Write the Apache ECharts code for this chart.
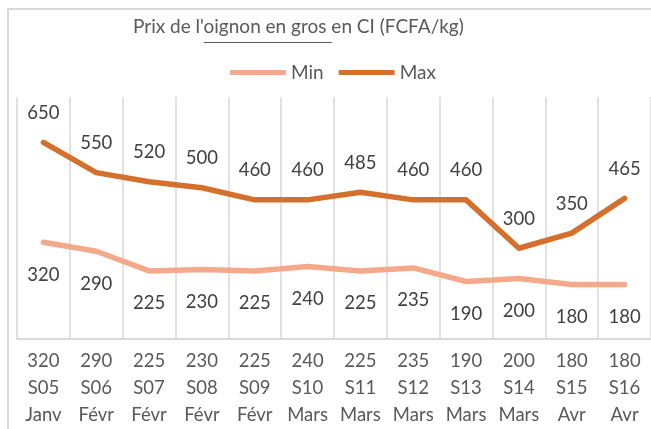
<!DOCTYPE html>
<html>
<head>
<meta charset="utf-8">
<script src="https://cdn.jsdelivr.net/npm/echarts@6/dist/echarts.min.js"></script>
<style>
html,body{margin:0;padding:0;background:#fff;}
#c{width:651px;height:429px;}
</style>
</head>
<body>
<div id="c"></div>
<script>
const weeks = ["S05","S06","S07","S08","S09","S10","S11","S12","S13","S14","S15","S16"];
const months = ["Janv","Févr","Févr","Févr","Févr","Mars","Mars","Mars","Mars","Mars","Avr","Avr"];
const minValues = [320,290,225,230,225,240,225,235,190,200,180,180];
const maxValues = [650,550,520,500,460,460,485,460,460,300,350,465];

const categories = weeks.map((w, i) => minValues[i] + "\n" + w + "\n" + months[i]);
const FONT = "Lato";
const TXT = "#595959";
const TITLE_SIZE = 19;
const TITLE_LEFT = 133;

// underline position for "oignon en gros "
const mctx = document.createElement("canvas").getContext("2d");
mctx.font = TITLE_SIZE + "px " + FONT;
const ulX1 = TITLE_LEFT + mctx.measureText("Prix de l'").width;
const ulX2 = ulX1 + mctx.measureText("oignon en gros ").width;

const chart = echarts.init(document.getElementById("c"), null, {renderer: "canvas"});
chart.setOption({
  animation: false,
  backgroundColor: "#fff",
  title: {
    text: "Prix de l'oignon en gros en CI (FCFA/kg)",
    left: TITLE_LEFT, top: 17,
    padding: 0,
    textStyle: {fontFamily: FONT, fontSize: TITLE_SIZE, fontWeight: "normal", color: TXT}
  },
  legend: {
    data: ["Min", "Max"],
    left: 230, top: 63,
    padding: 0,
    itemWidth: 56, itemHeight: 5, itemGap: 15,
    icon: "roundRect",
    textStyle: {fontFamily: FONT, fontSize: 19, color: TXT}
  },
  grid: {left: 17, top: 97, width: 636, height: 244, containLabel: false},
  xAxis: {
    type: "category",
    data: categories,
    boundaryGap: true,
    axisLine: {show: true, lineStyle: {color: "#D9D9D9", width: 2}},
    axisTick: {show: false},
    splitLine: {show: true, interval: 0, lineStyle: {color: "#D9D9D9", width: 1.5}},
    axisLabel: {interval: 0, margin: 9, fontFamily: FONT, fontSize: 18.5, lineHeight: 27, color: TXT}
  },
  yAxis: {
    type: "value", min: 0, max: 800,
    show: false,
    splitLine: {show: false}
  },
  series: [
    {
      name: "Min", type: "line", data: minValues,
      symbol: "circle", symbolSize: 0.1, showSymbol: true,
      lineStyle: {color: "#F4A98A", width: 5.5, cap: "round", join: "round"},
      itemStyle: {color: "#F4A98A"},
      label: {show: true, position: "bottom", distance: 23, fontFamily: FONT, fontSize: 18.5, color: "#404040"}
    },
    {
      name: "Max", type: "line", data: maxValues,
      symbol: "circle", symbolSize: 0.1, showSymbol: true,
      lineStyle: {color: "#D4702C", width: 5.5, cap: "round", join: "round"},
      itemStyle: {color: "#D4702C"},
      label: {show: true, position: "top", distance: 20, fontFamily: FONT, fontSize: 18.5, color: "#404040"}
    }
  ],
  graphic: [
    {type: "rect", shape: {x: 8, y: 9, width: 700, height: 500}, style: {fill: "none", stroke: "#D9D9D9", lineWidth: 2}, silent: true, z: -1},
    {type: "line", shape: {x1: ulX1, y1: 42.5, x2: ulX2, y2: 42.5}, style: {stroke: TXT, lineWidth: 1.2}, silent: true}
  ]
});
</script>
</body>
</html>
